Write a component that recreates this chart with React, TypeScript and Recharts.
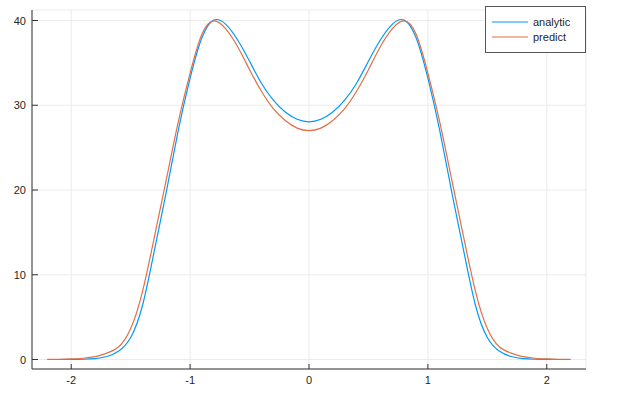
import React from 'react';
import { LineChart, Line, XAxis, YAxis, CartesianGrid, Legend } from 'recharts';

const xValues = [
  -2.2, -2.1, -2.0, -1.9, -1.8, -1.7, -1.6, -1.5, -1.4, -1.3, -1.2, -1.1, -1.0, -0.9, -0.8, -0.7,
  -0.6, -0.5, -0.4, -0.3, -0.2, -0.1, 0.0, 0.1, 0.2, 0.3, 0.4, 0.5, 0.6, 0.7, 0.8, 0.9, 1.0, 1.1,
  1.2, 1.3, 1.4, 1.5, 1.6, 1.7, 1.8, 1.9, 2.0, 2.1, 2.2,
];

const analytic = [
  0.0, 0.0, 0.01, 0.03, 0.1, 0.35, 1.0, 2.6, 6.4, 12.9, 19.8, 27.0, 33.2, 38.0, 40.05, 39.55,
  37.7, 35.2, 32.6, 30.6, 29.2, 28.35, 28.05, 28.35, 29.2, 30.6, 32.6, 35.2, 37.7, 39.55,
  40.05, 38.0, 33.2, 27.0, 19.8, 12.9, 6.4, 2.6, 1.0, 0.35, 0.1, 0.03, 0.01, 0.0, 0.0,
];

const predict = [
  0.02, 0.03, 0.07, 0.15, 0.33, 0.75, 1.5, 3.65, 8.05, 14.5, 21.25, 28.0, 33.8, 38.4, 39.95, 39.0,
  36.9, 34.2, 31.65, 29.6, 28.2, 27.3, 27.0, 27.3, 28.2, 29.6, 31.65, 34.2, 36.9, 39.0, 39.95, 38.4,
  33.8, 28.0, 21.25, 14.5, 8.05, 3.65, 1.5, 0.75, 0.33, 0.15, 0.07, 0.03, 0.02,
];

const xTicks = [-2, -1, 0, 1, 2];
const yTicks = [0, 10, 20, 30, 40];
const seriesNames = ['analytic', 'predict'];
const seriesColors = ['#009AFA', '#E36F47'];

const data = xValues.map((x, i) => ({ x, analytic: analytic[i], predict: predict[i] }));

const FONT = '"Liberation Sans", Arial, Helvetica, sans-serif';
const AXIS_COLOR = '#333333';
const TEXT_COLOR = '#1f1f1f';

const XTick = (props: any) => {
  const { x, y, payload } = props;
  return (
    <g>
      <line x1={x} x2={x} y1={y} y2={y - 5} stroke={AXIS_COLOR} strokeWidth={1} />
      <text x={x} y={y + 15} textAnchor="middle" fontSize={11} fontFamily={FONT} fill={TEXT_COLOR}>
        {String(payload.value)}
      </text>
    </g>
  );
};

const YTick = (props: any) => {
  const { x, y, payload } = props;
  return (
    <g>
      <line x1={x} x2={x + 6} y1={y} y2={y} stroke={AXIS_COLOR} strokeWidth={1} />
      <text x={x - 6} y={y + 4} textAnchor="end" fontSize={11} fontFamily={FONT} fill={TEXT_COLOR}>
        {String(payload.value)}
      </text>
    </g>
  );
};

const LegendBox = () => (
  <svg width={101} height={47} style={{ display: 'block' }}>
    <rect x={0.5} y={0.5} width={100} height={46} fill="#ffffff" stroke="#555555" strokeWidth={1} />
    {seriesNames.map((name, i) => (
      <g key={name}>
        <line
          x1={7}
          x2={43}
          y1={16 + i * 15}
          y2={16 + i * 15}
          stroke={seriesColors[i]}
          strokeWidth={1.2}
        />
        <text x={48} y={20 + i * 15} fontSize={11} fontFamily={FONT} fill={TEXT_COLOR}>
          {name}
        </text>
      </g>
    ))}
  </svg>
);

export default function App() {
  return (
    <div style={{ position: 'absolute', left: 0, top: 0, background: '#fff' }}>
      <LineChart width={622} height={403} data={data} margin={{ top: 10, right: 36, bottom: 0, left: 0 }}>
        <CartesianGrid stroke="#ebebeb" strokeWidth={1} />
        <XAxis
          dataKey="x"
          type="number"
          domain={[-2.33, 2.33]}
          allowDataOverflow
          ticks={xTicks}
          height={34}
          tickSize={0}
          tickMargin={0}
          tickLine={false}
          axisLine={{ stroke: AXIS_COLOR, strokeWidth: 1 }}
          tick={<XTick />}
          interval={0}
        />
        <YAxis
          type="number"
          domain={[-1.12, 41.24]}
          allowDataOverflow
          ticks={yTicks}
          width={32}
          tickSize={0}
          tickMargin={0}
          tickLine={false}
          axisLine={{ stroke: AXIS_COLOR, strokeWidth: 1 }}
          tick={<YTick />}
          interval={0}
        />
        <Legend
          layout="vertical"
          align="center"
          verticalAlign="middle"
          wrapperStyle={{ position: 'absolute', left: 485, top: 6, width: 101, height: 47 }}
          content={() => <LegendBox />}
        />
        {seriesNames.map((name, i) => (
          <Line
            key={name}
            type="natural"
            dataKey={name}
            name={name}
            stroke={seriesColors[i]}
            strokeWidth={1.2}
            dot={false}
            activeDot={false}
            isAnimationActive={false}
          />
        ))}
      </LineChart>
    </div>
  );
}
